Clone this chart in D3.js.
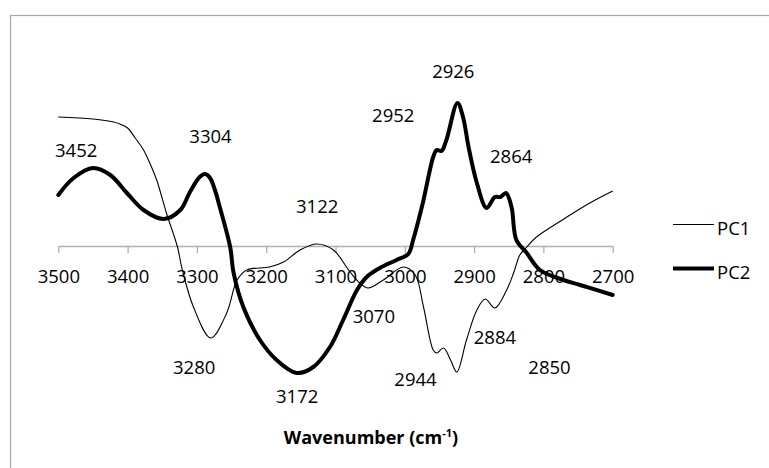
<!DOCTYPE html>
<html>
<head>
<meta charset="utf-8">
<script src="https://cdn.jsdelivr.net/npm/d3@7/dist/d3.min.js"></script>
<style>
  html, body { margin: 0; padding: 0; background: #fff; }
  svg { display: block; font-family: "Open Sans", sans-serif; }
</style>
</head>
<body>
<svg id="chart" width="769" height="468"></svg>
<script>
// ---- data ----
const tickValues = [3500, 3400, 3300, 3200, 3100, 3000, 2900, 2800, 2700];

const pc1Wn  = [3500, 3450, 3420, 3411, 3400, 3389, 3377, 3368, 3358, 3344, 3328, 3322, 3305, 3280, 3257, 3242, 3228, 3195, 3175, 3151, 3127, 3103, 3079, 3065, 3053, 3031, 3002, 2985, 2973, 2959, 2954, 2944, 2934, 2925, 2911, 2896, 2884, 2870, 2853, 2843, 2834, 2824, 2810, 2766, 2733, 2700];
const pc1Val = [0.129, 0.127, 0.124, 0.122, 0.118, 0.108, 0.096, 0.083, 0.066, 0.033, -0.001, -0.021, -0.061, -0.092, -0.067, -0.034, -0.024, -0.021, -0.016, -0.004, 0.002, -0.004, -0.026, -0.037, -0.042, -0.034, -0.021, -0.029, -0.061, -0.104, -0.107, -0.102, -0.114, -0.126, -0.094, -0.064, -0.053, -0.062, -0.044, -0.027, -0.009, -0.001, 0.009, 0.029, 0.043, 0.055];

const pc2Wn  = [3500, 3478, 3450, 3425, 3401, 3377, 3348, 3324, 3310, 3296, 3288, 3281, 3274, 3267, 3252, 3247, 3233, 3209, 3185, 3156, 3132, 3108, 3089, 3069, 3055, 3036, 3012, 2995, 2988, 2974, 2959, 2954, 2947, 2940, 2924, 2916, 2908, 2896, 2882, 2870, 2862, 2854, 2846, 2839, 2824, 2805, 2771, 2747, 2700];
const pc2Val = [0.051, 0.068, 0.078, 0.071, 0.053, 0.036, 0.027, 0.036, 0.054, 0.069, 0.072, 0.068, 0.056, 0.039, -0.001, -0.027, -0.061, -0.094, -0.114, -0.127, -0.121, -0.101, -0.074, -0.044, -0.031, -0.022, -0.014, -0.008, 0.006, 0.043, 0.089, 0.096, 0.095, 0.106, 0.143, 0.129, 0.099, 0.063, 0.038, 0.049, 0.049, 0.053, 0.039, 0.006, -0.007, -0.024, -0.034, -0.039, -0.049];

const seriesNames = ["PC1", "PC2"];

// peak annotations (text, wavenumber anchor, value anchor)
const peakText = ["3452", "3304", "3122", "2952", "2926", "2864", "3280", "3172", "3070", "2944", "2884", "2850"];
const peakWn   = [3474.2, 3280.4, 3126.4, 3016.7, 2930.0, 2846.5, 3303.9, 3155.3, 3044.7, 2984.6, 2869.9, 2791.2];
const peakVal  = [0.0893, 0.1027, 0.0327, 0.1237, 0.1677, 0.0827, -0.1283, -0.1573, -0.0773, -0.1397, -0.098, -0.1283];

// ---- drawing ----
const svg = d3.select("#chart");

// outer chart frame (cut off at right and bottom)
svg.append("rect")
  .attr("x", 10.5).attr("y", 15.5)
  .attr("width", 900).attr("height", 600)
  .attr("fill", "none").attr("stroke", "#a8a8a8").attr("stroke-width", 1.2);

const x = d3.scaleLinear().domain([3500, 2700]).range([58.3, 612.7]);
const y = d3.scaleLinear().domain([-0.15, 0.15]).range([396, 96]);

// x axis at value 0
const axis = d3.axisBottom(x)
  .tickValues(tickValues)
  .tickFormat(d3.format("d"))
  .tickSize(7)
  .tickSizeOuter(0)
  .tickPadding(17);

const gAxis = svg.append("g")
  .attr("transform", `translate(0,${y(0)})`)
  .call(axis);
gAxis.select(".domain").attr("stroke", "#b0b0b0").attr("stroke-width", 1.3);
gAxis.selectAll(".tick line").attr("stroke", "#b0b0b0").attr("stroke-width", 1.3);
gAxis.selectAll(".tick text")
  .attr("fill", "#000")
  .style("font-family", "'Open Sans', sans-serif")
  .style("font-size", "18.5px");

const line = d3.line()
  .x(d => x(d[0]))
  .y(d => y(d[1]))
  .curve(d3.curveCatmullRom.alpha(0.5));

const pc1 = pc1Wn.map((w, i) => [w, pc1Val[i]]);
const pc2 = pc2Wn.map((w, i) => [w, pc2Val[i]]);

svg.append("path").datum(pc1)
  .attr("d", line)
  .attr("fill", "none").attr("stroke", "#000").attr("stroke-width", 1.1);

svg.append("path").datum(pc2)
  .attr("d", line)
  .attr("fill", "none").attr("stroke", "#000").attr("stroke-width", 4)
  .attr("stroke-linejoin", "round").attr("stroke-linecap", "round");

// peak labels
svg.append("g").selectAll("text")
  .data(peakText)
  .join("text")
  .attr("x", (d, i) => x(peakWn[i]))
  .attr("y", (d, i) => y(peakVal[i]))
  .attr("text-anchor", "middle")
  .style("font-size", "18.5px")
  .attr("fill", "#000")
  .text(d => d);

// axis title
const title = svg.append("text")
  .attr("x", 371).attr("y", 444)
  .attr("text-anchor", "middle")
  .style("font-size", "18px")
  .style("font-weight", "bold")
  .attr("fill", "#000");
title.append("tspan").text("Wavenumber (cm");
title.append("tspan").text("-1").style("font-size", "11px").attr("dy", -7);
title.append("tspan").text(")").attr("dy", 7);

// legend
const legend = svg.append("g");
const legY = [224.5, 268.5];
const legW = [1.1, 4];
seriesNames.forEach((name, i) => {
  legend.append("line")
    .attr("x1", 673).attr("x2", 714)
    .attr("y1", legY[i]).attr("y2", legY[i])
    .attr("stroke", "#000").attr("stroke-width", legW[i]);
  legend.append("text")
    .attr("x", 717).attr("y", legY[i] + 10)
    .style("font-size", "18.5px")
    .attr("fill", "#000")
    .text(name);
});
</script>
</body>
</html>
